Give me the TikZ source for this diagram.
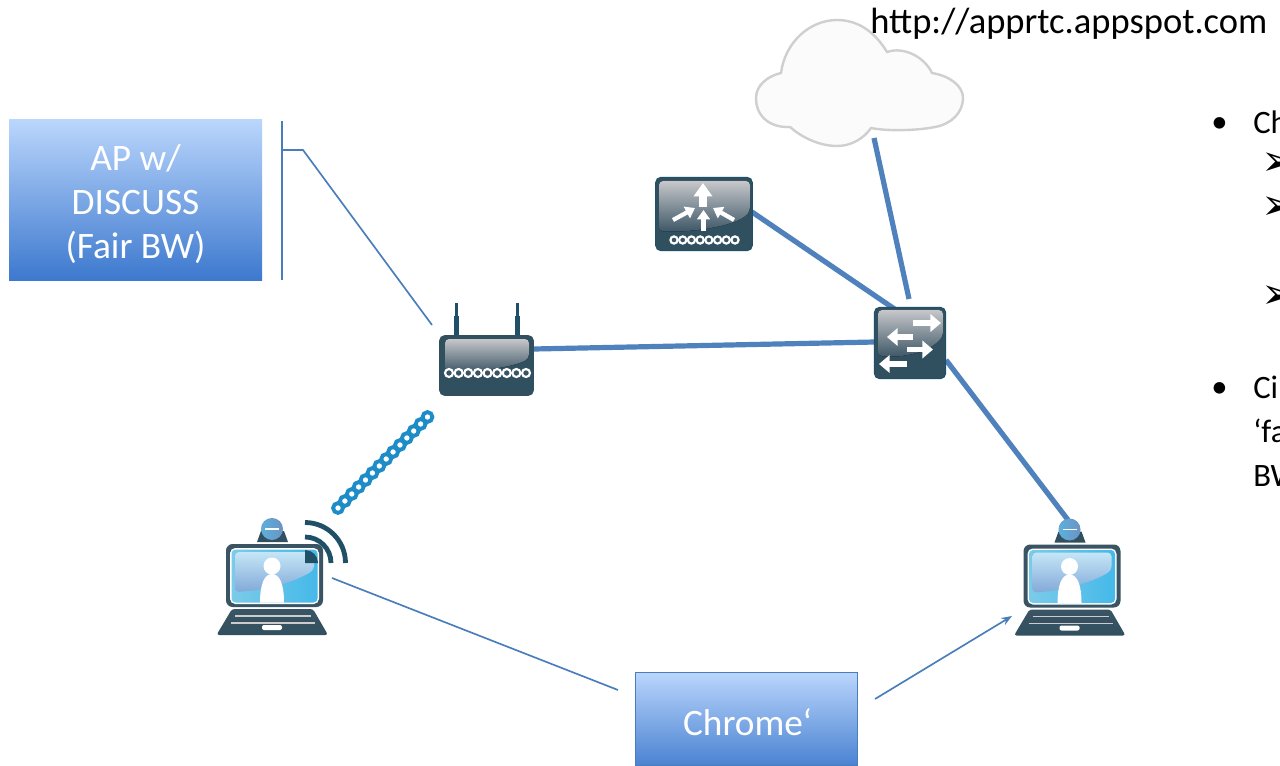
\documentclass[tikz,border=0pt]{standalone}
\usepackage{fontspec}
\setmainfont{Carlito}
\newfontfamily\symfont{DejaVu Sans}
\usetikzlibrary{arrows.meta}
\definecolor{linkblue}{HTML}{4F81BD}
\definecolor{thinblue}{HTML}{4A7EBB}
\definecolor{icondark}{HTML}{31505F}
\definecolor{iconedge}{HTML}{1F5068}
\definecolor{icontop}{HTML}{C6C7CA}
\definecolor{iconlow}{HTML}{3A5464}
\definecolor{ringblue}{HTML}{1E8CC6}
\definecolor{cloudedge}{HTML}{CFCFCF}
\definecolor{HTMLapA}{HTML}{BAD6FC}
\definecolor{HTMLapB}{HTML}{3C78CE}
\definecolor{HTMLapC}{HTML}{4A82D2}
\definecolor{HTMLlightA}{HTML}{7BCBE9}
\definecolor{HTMLlightB}{HTML}{45B9E9}
\definecolor{HTMLglossA}{HTML}{C5E6F6}
\definecolor{HTMLglossB}{HTML}{82A9D9}
\definecolor{HTMLcamA}{HTML}{5BB0DC}
\definecolor{HTMLcamB}{HTML}{6C93C4}
\tikzset{
  thick link/.style={draw=linkblue,line width=3.9pt},
  thin link/.style={draw=thinblue,line width=1.25pt},
  boxlabel/.style={text=white,font=\fontsize{28}{33}\selectfont,align=center},
  body text/.style={text=black,font=\fontsize{24.5}{33}\selectfont,anchor=base west,inner sep=0pt},
  arrow mark/.style={text=black,font=\symfont\fontsize{32}{36}\selectfont,anchor=west,inner sep=0pt},
  big arrow/.style={draw=white,line width=6pt,-{Triangle[length=10pt,width=13.5pt]}},
  white arrow/.style={draw=white,line width=4pt,-{Triangle[length=8pt,width=13pt]}},
  small arrow/.style={draw=white,line width=3.2pt,-{Triangle[length=7pt,width=9.5pt]}},
  ring/.style={draw=white,line width=1.6pt,fill=iconlow},
  wifi/.style={draw=iconedge,line width=3.6pt},
}
% chain of rings: x-start, x-end, y, count, radius
\newcommand{\ringrow}[5]{%
  \foreach \k in {1,...,#4}{%
    \pgfmathsetmacro{\rx}{#1+(#2-#1)*(\k-1)/(#4-1)}
    \draw[ring] (\rx,#3) circle (#5);
  }}
% glossy block: x0,y0,x1,(unused), gloss bottom right y, gloss bottom left y
\newcommand{\icongloss}[6]{%
  \fill[top color=icontop,bottom color=iconlow,rounded corners=3pt]
    (#1,#6+3) -- (#1,#2) -- (#3,#2) -- (#3,#5) .. controls (#3-14,#6-1) and (#1+28,#6+5) .. (#1,#6+3) -- cycle;
}
% laptop, drawn in local coordinates of the left one
\newcommand{\laptop}{%
  \fill[icondark] (257,542) -- (261,531) -- (284,531) -- (288,542) -- cycle;
  \shade[top color=iconlow,bottom color=icondark,rounded corners=2pt]
     (232,609) -- (313,609) -- (328,635) -- (216.5,635) -- cycle;
  \draw[white!60!gray,line width=.8pt] (235,616) -- (311,616);
  \draw[white!60!gray,line width=.8pt] (231,623) -- (315,623);
  \fill[white,rounded corners=1.5pt] (262,625) rectangle (282,630);
  \fill[iconlow,rounded corners=5pt] (226,544) rectangle (323,607);
  \fill[white,rounded corners=4pt] (230,548) rectangle (319,604);
  \shade[left color=HTMLlightA,right color=HTMLlightB,rounded corners=3pt] (231.5,549.5) rectangle (317.5,602.5);
  \shade[top color=HTMLglossA,bottom color=HTMLglossB,rounded corners=3pt]
     (235,592) -- (235,552) -- (314,552) -- (314,570) .. controls (298,580) and (270,590) .. (235,592) -- cycle;
  \fill[white] (272,566) circle (8.5);
  \fill[white] (260,602.5) .. controls (260,585) and (264,574) .. (272,574) .. controls (280,574) and (284,585) .. (284,602.5) -- cycle;
  \fill[HTMLcamB] (272,529) circle (11);
  \shade[left color=HTMLcamA,right color=HTMLcamB] (272,529) circle (10.5);
  \draw[white,line width=.9pt] (265,529) -- (279,529);
}
\begin{document}
\begin{tikzpicture}[x=0.75pt,y=-0.75pt]
\useasboundingbox (0,0) rectangle (1280,766);
\fill[white] (0,0) rectangle (1280,766);

% connector end points
\coordinate (apBracketTop) at (282,121);
\coordinate (apBracketBot) at (282,280);
\coordinate (apBracketMid) at (282,150);
\coordinate (apElbow) at (303,150);
\coordinate (apEnd) at (432,325);
\coordinate (routerE) at (534,349);
\coordinate (switchW) at (875,342);
\coordinate (aggE) at (752,212);
\coordinate (switchNW) at (896,310);
\coordinate (cloudS) at (874,138);
\coordinate (switchN) at (909,299);
\coordinate (switchSE) at (946,360);
\coordinate (laptopRN) at (1068,520);
\coordinate (laptopLE) at (332,578);
\coordinate (chromeW) at (618,690);
\coordinate (chromeE) at (875,699);
\coordinate (laptopRW) at (1012,616);

% links (under the icons)
\draw[thick link] (routerE) -- (switchW);
\draw[thick link] (aggE) -- (switchNW);
\draw[thick link] (cloudS) -- (switchN);
\draw[thick link] (switchSE) -- (laptopRN);

% cloud
\draw[cloudedge,line width=1.8pt,fill=white!98.5!black]
  (781,73) .. controls (768,76) and (756,85) .. (756,98)
  .. controls (756,118) and (772,128) .. (790,127)
  .. controls (800,136) and (818,146) .. (837,146)
  .. controls (852,146) and (864,138) .. (871,128)
  .. controls (885,131) and (915,131) .. (935,127)
  .. controls (952,124) and (963,112) .. (963,98)
  .. controls (963,86) and (950,76) .. (932,73)
  .. controls (925,58) and (905,46) .. (887,52)
  .. controls (875,32) and (858,20) .. (837,20)
  .. controls (810,20) and (785,42) .. (781,73) -- cycle;

% AP box
\node[minimum width=189.75pt,minimum height=120.75pt,inner sep=0pt,
      top color=HTMLapA,bottom color=HTMLapB] (apbox) at (135.5,200.5) {};
\node[boxlabel,inner sep=0pt] (aplabel) at (135.5,204.5) {AP w/\\DISCUSS\\(Fair BW)};
\draw[thin link] (apBracketTop) -- (apBracketBot);
\draw[thin link] (apBracketMid) -- (apElbow) -- (apEnd);

% router
\fill[iconedge] (453.5,316) rectangle (458.5,338);
\fill[iconedge] (455,303) rectangle (457.5,316);
\fill[iconedge] (514.5,316) rectangle (519.5,338);
\fill[iconedge] (516,303) rectangle (518.5,316);
\node[fill=icondark,rounded corners=4pt,minimum width=71pt,minimum height=45.5pt,inner sep=0pt] (router) at (486.5,365.5) {};
\icongloss{445}{339}{529}{0}{358}{368}
\ringrow{449}{526}{373}{9}{4}

% aggregation switch
\node[fill=icondark,draw=iconedge,line width=.8pt,rounded corners=4pt,minimum width=72.5pt,minimum height=55pt,inner sep=0pt] (agg) at (704,214) {};
\icongloss{659}{181}{750}{0}{211}{228}
\ringrow{674}{735}{240}{8}{3.6}
\draw[big arrow] (703,207) -- (703,183);
\draw[small arrow] (703.5,231) -- (703.5,210);
\draw[small arrow] (673,220) -- (695,208);
\draw[small arrow] (734,220) -- (713,208);

% switch
\node[fill=icondark,draw=iconedge,line width=.8pt,rounded corners=4pt,minimum width=53.5pt,minimum height=53.5pt,inner sep=0pt] (switch) at (910,343) {};
\icongloss{878}{310}{943}{0}{336}{353}
\draw[white arrow] (913,323) -- (941,323);
\draw[white arrow] (913,337) -- (887,337);
\draw[white arrow] (907,349.5) -- (933,349.5);
\draw[white arrow] (907,364) -- (879,364);

% laptops
\begin{scope}\laptop\end{scope}
\begin{scope}[shift={(797.5,0.5)}]\laptop\end{scope}

% wifi on the left laptop
\fill[iconedge] (305,563) -- (305,550) arc[start angle=-90,end angle=0,radius=13] -- cycle;
\draw[wifi] (305,537) arc[start angle=-90,end angle=0,radius=26];
\draw[wifi] (305,522.5) arc[start angle=-90,end angle=0,radius=40.5];

% wireless rings
\foreach \k in {0,...,13}{
  \pgfmathsetmacro{\wx}{338+(427.5-338)*\k/13}
  \pgfmathsetmacro{\wy}{508-(508-417)*\k/13}
  \draw[ringblue,line width=2.9pt] (\wx,\wy) circle (4.9);
}

% Chrome box and its links
\node[draw=thinblue,line width=.9pt,minimum width=166.5pt,minimum height=70pt,inner sep=0pt,
      top color=HTMLapA,bottom color=HTMLapC] (chrome) at (746.5,719) {};
\node[boxlabel,inner sep=0pt] (chromelabel) at (747.5,722) {Chrome‘};
\draw[thin link] (laptopLE) -- (chromeW);
\draw[thin link,-{Stealth[length=8pt,width=6pt]}] (chromeE) -- (laptopRW);

% texts
\node[text=black,font=\fontsize{27.4}{32}\selectfont,anchor=base west,inner sep=0pt] (url) at (870,34) {http://apprtc.appspot.com};
\node[body text] (bulA) at (1211,133) {•};
\node[body text] (lineCh) at (1253,134) {Ch};
\node[arrow mark] (markA) at (1261.5,164) {➢};
\node[arrow mark] (markB) at (1261.5,208) {➢};
\node[arrow mark] (markC) at (1261.5,297) {➢};
\node[body text] (bulB) at (1211,397) {•};
\node[body text] (lineCi) at (1253,398) {Ci};
\node[body text] (lineFa) at (1253,442) {‘fa};
\node[body text] (lineBW) at (1253,486) {BW};
\end{tikzpicture}
\end{document}
